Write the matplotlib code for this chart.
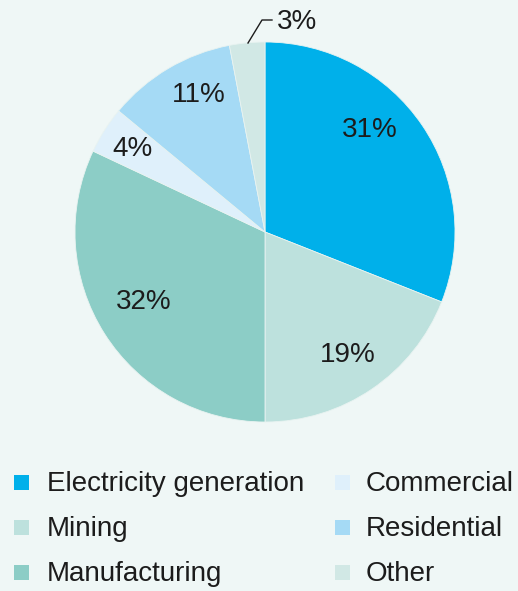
import numpy as np
import matplotlib
matplotlib.use("Agg")
import matplotlib.pyplot as plt
from matplotlib.patches import Rectangle

sectors = ['Electricity generation', 'Mining', 'Manufacturing',
           'Commercial', 'Residential', 'Other']
shares = [31, 19, 32, 4, 11, 3]
colors = ['#00b0ea', '#bde1dd', '#8ccdc6', '#dff0fb', '#a5daf5', '#d1e8e5']

# label placement (angle in degrees, radius as fraction of pie radius)
label_angle = [44, -56, 210, 148, 116]
label_radius = [0.77, 0.78, 0.74, 0.82, 0.80]

bg = '#eff7f6'
txt = '#1c1c1c'
plt.rcParams['font.family'] = ['Liberation Sans', 'DejaVu Sans']

W, H = 518, 591
fig = plt.figure(figsize=(W / 100, H / 100), dpi=100, facecolor=bg)

# pie centre and radius in pixels
cx, cy, r = 265, 232, 190
ax = fig.add_axes([(cx - r) / W, (H - cy - r) / H, 2 * r / W, 2 * r / H])
ax.set_facecolor(bg)
ax.pie(shares, colors=colors, startangle=90, counterclock=False, radius=1,
       wedgeprops=dict(edgecolor='#e8f3f1', linewidth=0.6))
ax.set_xlim(-1, 1)
ax.set_ylim(-1, 1)
ax.set_aspect('equal')
ax.axis('off')

for val, a, d in zip(shares[:5], label_angle, label_radius):
    t = np.radians(a)
    ax.text(d * np.cos(t), d * np.sin(t), f'{val}%', ha='center', va='center',
            fontsize=20, color=txt)

# "Other" gets an outside label with a leader line
def px(x, y):
    return ((x - cx) / r, (cy - y) / r)

p0, p1, p2 = px(248, 43), px(262, 20), px(272, 20)
ax.plot([p0[0], p1[0], p2[0]], [p0[1], p1[1], p2[1]], color=txt,
        lw=1.0, clip_on=False)
tx, ty = px(277, 22)
ax.text(tx, ty, f'{shares[5]}%', ha='left', va='center', fontsize=20,
        color=txt, clip_on=False)

# legend, two columns
cols = [(14, 47), (335, 366)]
rows = [482, 527, 572]
for i, (name, c) in enumerate(zip(sectors, colors)):
    sx, tx = cols[i // 3]
    y = rows[i % 3]
    fig.add_artist(Rectangle((sx / W, (H - y - 7.5) / H), 15 / W, 15 / H,
                             transform=fig.transFigure, facecolor=c,
                             edgecolor='none'))
    fig.text(tx / W, (H - y - 2) / H, name, ha='left', va='center',
             fontsize=20, color=txt)

fig.savefig('out.png', dpi=100, facecolor=bg)
